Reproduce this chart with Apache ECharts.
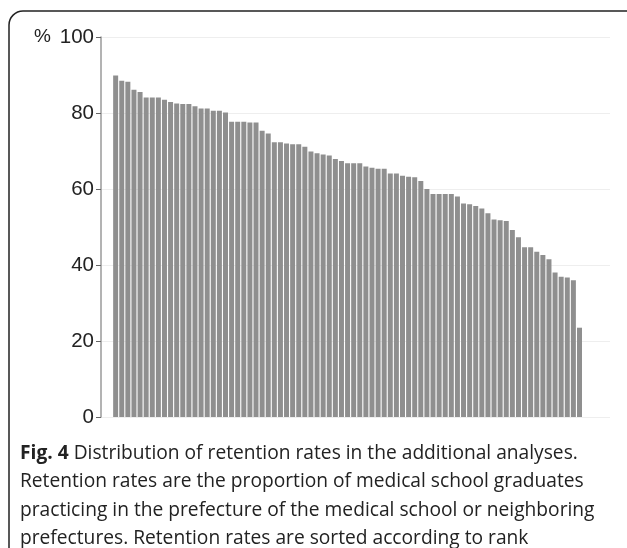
<!DOCTYPE html>
<html>
<head>
<meta charset="utf-8">
<script src="https://cdn.jsdelivr.net/npm/echarts@6/dist/echarts.min.js"></script>
<style>
  html, body { margin: 0; padding: 0; background: #fff; }
  #chart { width: 627px; height: 548px; }
</style>
</head>
<body>
<div id="chart"></div>
<script>
// retention rate (%) per medical school, sorted by rank
const rates = [
  89.9, 88.5, 88.2, 86.1, 85.5, 84.1, 84.1, 84.1, 83.5, 82.9,
  82.5, 82.4, 82.4, 81.8, 81.2, 81.2, 80.6, 80.6, 80.1, 77.7,
  77.7, 77.7, 77.5, 77.5, 75.3, 74.6, 72.3, 72.3, 72.0, 71.8,
  71.8, 71.1, 69.9, 69.4, 69.1, 68.8, 67.9, 67.4, 66.8, 66.8,
  66.8, 65.9, 65.6, 65.3, 65.3, 64.1, 64.1, 63.5, 63.2, 63.1,
  62.1, 60.0, 58.7, 58.7, 58.7, 58.7, 58.0, 56.2, 56.0, 55.5,
  54.9, 53.6, 52.0, 51.8, 51.6, 49.2, 47.3, 44.7, 44.7, 43.5,
  42.6, 41.5, 38.0, 36.9, 36.7, 36.0, 23.5
];
const ranks = rates.map((v, i) => i + 1);
const yTicks = [0, 20, 40, 60, 80, 100];

const captionLines = [
  "Distribution of retention rates in the additional analyses.",
  "Retention rates are the proportion of medical school graduates",
  "practicing in the prefecture of the medical school or neighboring",
  "prefectures. Retention rates are sorted according to rank"
];

const capFont = 19.2;

let myChart = echarts.init(document.getElementById("chart"));
myChart.setOption({
  animation: false,
  grid: {
    left: 101,
    right: 17,
    top: 37,
    bottom: 131,
  },
  xAxis: {
    type: "value",
    min: -1.4,
    max: 82,
    show: false,
  },
  yAxis: {
    type: "value",
    min: yTicks[0],
    max: yTicks[yTicks.length - 1],
    interval: 20,
    axisLine: {
      show: true,
      onZero: false,
      lineStyle: { color: "#9a9a9a", width: 1.5 },
    },
    axisTick: {
      show: true,
      length: 5,
      lineStyle: { color: "#666" },
    },
    axisLabel: {
      color: "#222",
      fontSize: 20.5,
      fontFamily: "Liberation Sans",
      margin: 7,
    },
    splitLine: {
      show: true,
      lineStyle: { color: "#eeeeee", width: 1 },
    },
  },
  series: [
    {
      type: "bar",
      barWidth: 5,
      itemStyle: {
        color: "#8f8f8f",
      },
      data: ranks.map((r, i) => [r, rates[i]]),
    },
  ],
  graphic: [
    {
      type: "rect",
      shape: { x: 9, y: 11, width: 660, height: 580, r: 14 },
      style: { fill: "none", stroke: "#222", lineWidth: 1.5 },
    },
    {
      type: "text",
      left: 34,
      top: 27,
      style: { text: "%", fontSize: 19, fontFamily: "Liberation Sans", fill: "#222" },
    },
    {
      type: "text",
      left: 20,
      top: 444,
      style: {
        text: "{b|Fig. 4} " + captionLines[0],
        fontSize: capFont,
        fontFamily: "Open Sans",
        fill: "#222",
        rich: { b: { fontWeight: "bold", fontSize: capFont, fontFamily: "Open Sans", fill: "#222" } },
      },
    },
    {
      type: "text",
      left: 20,
      top: 472.5,
      style: { text: captionLines[1], fontSize: capFont, fontFamily: "Open Sans", fill: "#222" },
    },
    {
      type: "text",
      left: 20,
      top: 501,
      style: { text: captionLines[2], fontSize: capFont, fontFamily: "Open Sans", fill: "#222" },
    },
    {
      type: "text",
      left: 20,
      top: 529,
      style: { text: captionLines[3], fontSize: capFont, fontFamily: "Open Sans", fill: "#222" },
    },
  ],
});
</script>
</body>
</html>
